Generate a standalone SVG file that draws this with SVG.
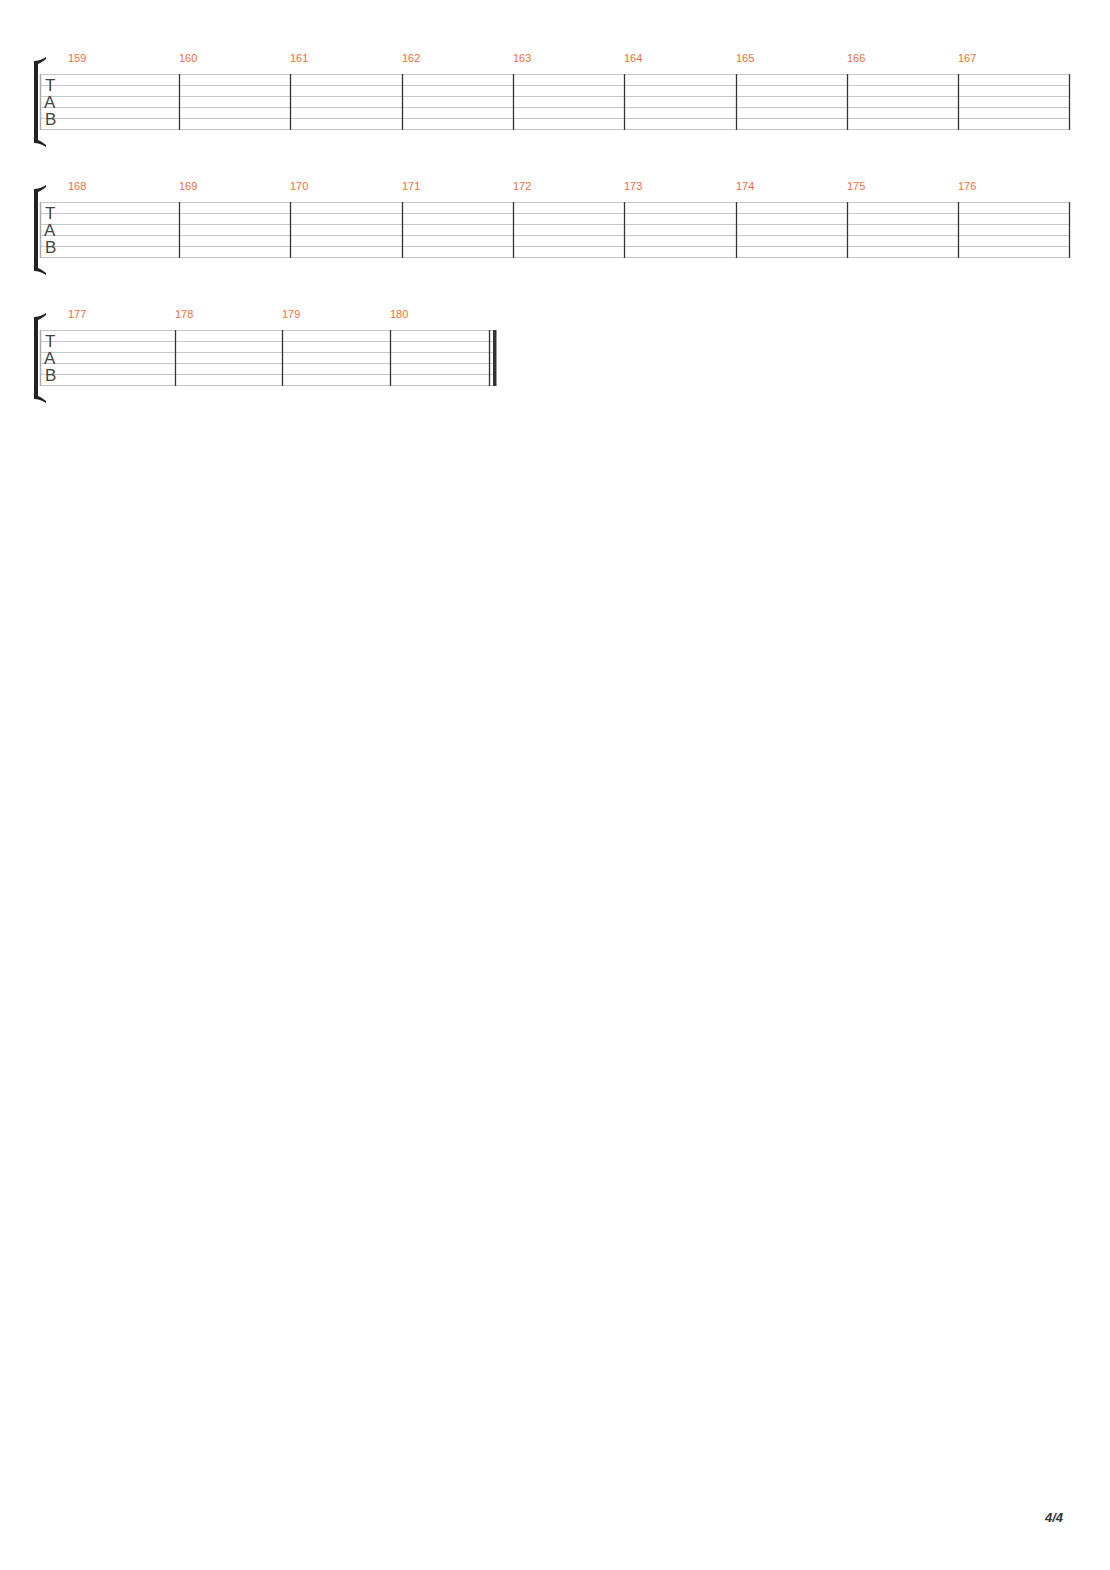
<svg xmlns="http://www.w3.org/2000/svg" width="1110" height="1570" viewBox="0 0 1110 1570">
<style>
.s{stroke:#c8c8c8;stroke-width:1}
.b{stroke:#333;stroke-width:1.3}
.n{font-family:"Liberation Sans",Arial,sans-serif;font-size:11px;fill:#f36f3c}
.t{font-family:"Liberation Sans",Arial,sans-serif;font-size:17px;fill:#444}
.br{fill:#222}
.tl{stroke:#aaa;stroke-width:1.5}
</style>
<defs>
<path id="brk" class="br" d="M34 61 Q40 61 46 57 L46 59 Q41 63 38 64 L38 140 Q41 141 46 145 L46 147 Q40 143 34 143 Z"/>
</defs>
<g id="system1">
<use href="#brk"/>
<path class="s" d="M40 74.5H1069M40 85.5H1069M40 96.5H1069M40 107.5H1069M40 118.5H1069M40 129.5H1069"/>
<line class="tl" x1="40.5" y1="74" x2="40.5" y2="130"/>
<text class="t" x="45" y="91">T</text>
<text class="t" x="44" y="108">A</text>
<text class="t" x="45" y="125">B</text>
<path class="b" d="M179.5 74V130M290.5 74V130M402.5 74V130M513.5 74V130M624.5 74V130M736.5 74V130M847.5 74V130M958.5 74V130M1069.5 74V130"/>
<text class="n" x="68" y="62">159</text><text class="n" x="179" y="62">160</text><text class="n" x="290" y="62">161</text><text class="n" x="402" y="62">162</text><text class="n" x="513" y="62">163</text><text class="n" x="624" y="62">164</text><text class="n" x="736" y="62">165</text><text class="n" x="847" y="62">166</text><text class="n" x="958" y="62">167</text>
</g>
<g id="system2" transform="translate(0,128)">
<use href="#brk"/>
<path class="s" d="M40 74.5H1069M40 85.5H1069M40 96.5H1069M40 107.5H1069M40 118.5H1069M40 129.5H1069"/>
<line class="tl" x1="40.5" y1="74" x2="40.5" y2="130"/>
<text class="t" x="45" y="91">T</text>
<text class="t" x="44" y="108">A</text>
<text class="t" x="45" y="125">B</text>
<path class="b" d="M179.5 74V130M290.5 74V130M402.5 74V130M513.5 74V130M624.5 74V130M736.5 74V130M847.5 74V130M958.5 74V130M1069.5 74V130"/>
<text class="n" x="68" y="62">168</text><text class="n" x="179" y="62">169</text><text class="n" x="290" y="62">170</text><text class="n" x="402" y="62">171</text><text class="n" x="513" y="62">172</text><text class="n" x="624" y="62">173</text><text class="n" x="736" y="62">174</text><text class="n" x="847" y="62">175</text><text class="n" x="958" y="62">176</text>
</g>
<g id="system3" transform="translate(0,256)">
<use href="#brk"/>
<path class="s" d="M40 74.5H493M40 85.5H493M40 96.5H493M40 107.5H493M40 118.5H493M40 129.5H493"/>
<line class="tl" x1="40.5" y1="74" x2="40.5" y2="130"/>
<text class="t" x="45" y="91">T</text>
<text class="t" x="44" y="108">A</text>
<text class="t" x="45" y="125">B</text>
<path class="b" d="M175.5 74V130M282.5 74V130M390.5 74V130M489.5 74V130"/>
<rect x="493" y="74" width="3.5" height="56" fill="#333"/>
<text class="n" x="68" y="62">177</text><text class="n" x="175" y="62">178</text><text class="n" x="282" y="62">179</text><text class="n" x="390" y="62">180</text>
</g>
<text x="1045" y="1522" font-family="Liberation Sans,Arial,sans-serif" font-size="13" font-style="italic" font-weight="bold" fill="#333">4/4</text>
</svg>
